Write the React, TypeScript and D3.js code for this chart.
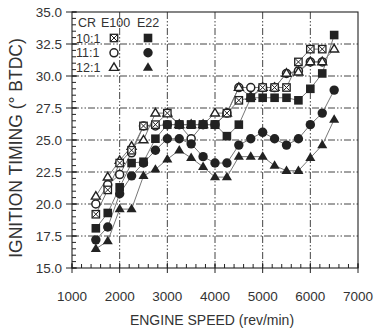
import React from "react";
import * as d3 from "d3";

// Engine speed (rev/min) at which each timing point was recorded
const speeds = [
  1500, 1750, 2000, 2250, 2500, 2750, 3000, 3250, 3500, 3750, 4000,
  4250, 4500, 4750, 5000, 5250, 5500, 5750, 6000, 6250, 6500,
];

// Ignition timing (deg BTDC); null = not measured
const e100cr10 = [19.2, 21.1, 23.2, 24.2, 26.1, 26.2, 27.1, 26.2, 26.2, 26.2, 26.2, 27.1, 28.1, 28.3, 29.1, 29.1, 29.1, 31.1, 32.1, 32.1, null];
const e100cr11 = [20.0, 21.5, 22.3, 24.0, 26.1, 26.1, 26.2, 26.2, 25.1, 26.2, 26.2, 27.1, 29.1, 29.1, 29.1, 29.1, 30.2, 30.4, 31.1, 31.1, null];
const e100cr12 = [20.6, 22.1, 23.4, 24.5, 25.0, 27.1, 27.1, 26.2, 26.2, 26.2, 27.1, 27.1, 29.1, 28.4, 29.1, 29.1, 30.2, 30.3, 31.1, 31.1, 32.1];
const e22cr10 = [18.1, 19.3, 21.3, 23.2, 23.3, 25.1, 26.2, 26.2, 26.2, 26.2, 26.2, 25.3, 26.2, 28.3, 28.3, 28.3, 28.3, 28.1, 29.0, 30.2, 33.2];
const e22cr11 = [17.2, 18.2, 20.8, 22.2, 23.2, 24.2, 25.1, 25.1, 24.7, 23.7, 23.2, 23.2, 24.6, 25.1, 25.6, 25.1, 24.6, 25.1, 26.2, 27.1, 28.9];
const e22cr12 = [16.5, 17.1, 19.6, 19.6, 22.2, 22.7, 23.5, 24.2, 23.6, 22.9, 22.1, 22.1, 23.7, 23.7, 23.7, 23.0, 22.6, 22.6, 23.6, 24.6, 26.6];

const xTicks = [1000, 2000, 3000, 4000, 5000, 6000, 7000];
const yTicks = [15, 17.5, 20, 22.5, 25, 27.5, 30, 32.5, 35];
const ratios = ["10:1", "11:1", "12:1"];
const fuels = ["E100", "E22"];

type Shape = "xsquare" | "circle" | "triangle";

// drawn in this order (later series sit on top)
const series: { values: (number | null)[]; shape: Shape; filled: boolean }[] = [
  { values: e100cr11, shape: "circle", filled: false },
  { values: e100cr12, shape: "triangle", filled: false },
  { values: e100cr10, shape: "xsquare", filled: false },
  { values: e22cr10, shape: "xsquare", filled: true },
  { values: e22cr11, shape: "circle", filled: true },
  { values: e22cr12, shape: "triangle", filled: true },
];

const W = 378;
const H = 331;
const left = 72;
const right = 358;
const top = 12;
const bottom = 268;
const ink = "#222";
const textCol = "#333";
const font = "'Liberation Sans', Arial, sans-serif";

function Marker({ x, y, shape, filled }: { x: number; y: number; shape: Shape; filled: boolean }) {
  if (shape === "xsquare") {
    const s = 4.3;
    if (filled) {
      return <rect x={x - s} y={y - s} width={2 * s} height={2 * s} fill={ink} />;
    }
    return (
      <g stroke={ink} strokeWidth={1.3} fill="#fff">
        <rect x={x - s + 0.6} y={y - s + 0.6} width={2 * s - 1.2} height={2 * s - 1.2} />
        <line x1={x - s + 1.2} y1={y - s + 1.2} x2={x + s - 1.2} y2={y + s - 1.2} strokeWidth={1} />
        <line x1={x - s + 1.2} y1={y + s - 1.2} x2={x + s - 1.2} y2={y - s + 1.2} strokeWidth={1} />
      </g>
    );
  }
  if (shape === "circle") {
    return filled ? (
      <circle cx={x} cy={y} r={4.7} fill={ink} />
    ) : (
      <circle cx={x} cy={y} r={4.0} fill="#fff" stroke={ink} strokeWidth={1.5} />
    );
  }
  const r = filled ? 5.3 : 4.7;
  const pts = [
    [x, y - r],
    [x + r * 0.95, y + r * 0.6],
    [x - r * 0.95, y + r * 0.6],
  ]
    .map((p) => p.join(","))
    .join(" ");
  return filled ? (
    <polygon points={pts} fill={ink} />
  ) : (
    <polygon points={pts} fill="#fff" stroke={ink} strokeWidth={1.4} />
  );
}

export default function App() {
  const x = d3.scaleLinear().domain([1000, 7000]).range([left, right]);
  const y = d3.scaleLinear().domain([15, 35]).range([bottom, top]);

  const line = d3
    .line<[number, number | null]>()
    .defined((d) => d[1] !== null)
    .x((d) => x(d[0]))
    .y((d) => y(d[1] as number));

  const minorX = d3.range(1000, 7001, 200);
  const minorY = d3.range(15, 35.01, 0.5);
  const gridX = xTicks.slice(1, -1);
  const gridY = yTicks.slice(1, -1);
  const dash = "7,2,1.5,2,1.5,2";

  const legendShapes: Shape[] = ["xsquare", "circle", "triangle"];

  return (
    <svg
      width={W}
      height={H}
      style={{ position: "absolute", left: 0, top: 0, background: "#fff" }}
      fontFamily={font}
    >
      {/* grid */}
      {gridX.map((v) => (
        <line key={"gx" + v} x1={x(v)} x2={x(v)} y1={top} y2={bottom} stroke="#444" strokeWidth={1} strokeDasharray={dash} />
      ))}
      {gridY.map((v) => (
        <line key={"gy" + v} x1={left} x2={right} y1={y(v)} y2={y(v)} stroke="#444" strokeWidth={1} strokeDasharray={dash} />
      ))}

      {/* frame */}
      <rect x={left} y={top} width={right - left} height={bottom - top} fill="none" stroke={ink} strokeWidth={1.1} />

      {/* x ticks */}
      {minorX.map((v) => (
        <line key={"mx" + v} x1={x(v)} x2={x(v)} y1={bottom - 4} y2={bottom} stroke={ink} strokeWidth={1} />
      ))}
      {xTicks.map((v) => (
        <g key={"tx" + v}>
          <line x1={x(v)} x2={x(v)} y1={bottom - 5} y2={bottom + 5} stroke={ink} strokeWidth={1} />
          <text x={x(v)} y={301} textAnchor="middle" fontSize={13.5} fill={textCol}>
            {v}
          </text>
        </g>
      ))}

      {/* y ticks */}
      {minorY.map((v) => (
        <line key={"my" + v} x1={left} x2={left + 4} y1={y(v)} y2={y(v)} stroke={ink} strokeWidth={1} />
      ))}
      {yTicks.map((v) => (
        <g key={"ty" + v}>
          <line x1={left - 6} x2={left + 5} y1={y(v)} y2={y(v)} stroke={ink} strokeWidth={1} />
          <text x={62} y={y(v) + 5} textAnchor="end" fontSize={13.5} fill={textCol}>
            {v.toFixed(1)}
          </text>
        </g>
      ))}

      {/* axis titles */}
      <text x={212} y={325} textAnchor="middle" fontSize={14} fill={textCol}>
        ENGINE SPEED (rev/min)
      </text>
      <text
        transform={`translate(22,148) rotate(-90)`}
        textAnchor="middle"
        fontSize={17.5}
        fill={textCol}
      >
        IGNITION TIMING (° BTDC)
      </text>

      {/* connecting lines */}
      {series.map((s, i) => (
        <path
          key={"l" + i}
          d={line(speeds.map((sp, j) => [sp, s.values[j]]) as [number, number | null][]) || ""}
          fill="none"
          stroke="#777"
          strokeWidth={1}
        />
      ))}

      {/* markers */}
      {series.map((s, i) =>
        s.values.map((v, j) =>
          v === null ? null : (
            <Marker key={`m${i}-${j}`} x={x(speeds[j])} y={y(v)} shape={s.shape} filled={s.filled} />
          )
        )
      )}

      {/* legend */}
      <text x={78} y={27} fontSize={12.5} fill={textCol}>CR</text>
      <text x={101} y={27} fontSize={12.5} fill={textCol}>{fuels[0]}</text>
      <text x={137} y={27} fontSize={12.5} fill={textCol}>{fuels[1]}</text>
      {ratios.map((r, i) => {
        const cy = 38 + i * 14.8;
        return (
          <g key={"lg" + r}>
            <text x={76} y={cy + 4.5} fontSize={12.5} fill={textCol}>{r}</text>
            <Marker x={114} y={cy} shape={legendShapes[i]} filled={false} />
            <Marker x={148} y={cy} shape={legendShapes[i]} filled={true} />
          </g>
        );
      })}
    </svg>
  );
}
